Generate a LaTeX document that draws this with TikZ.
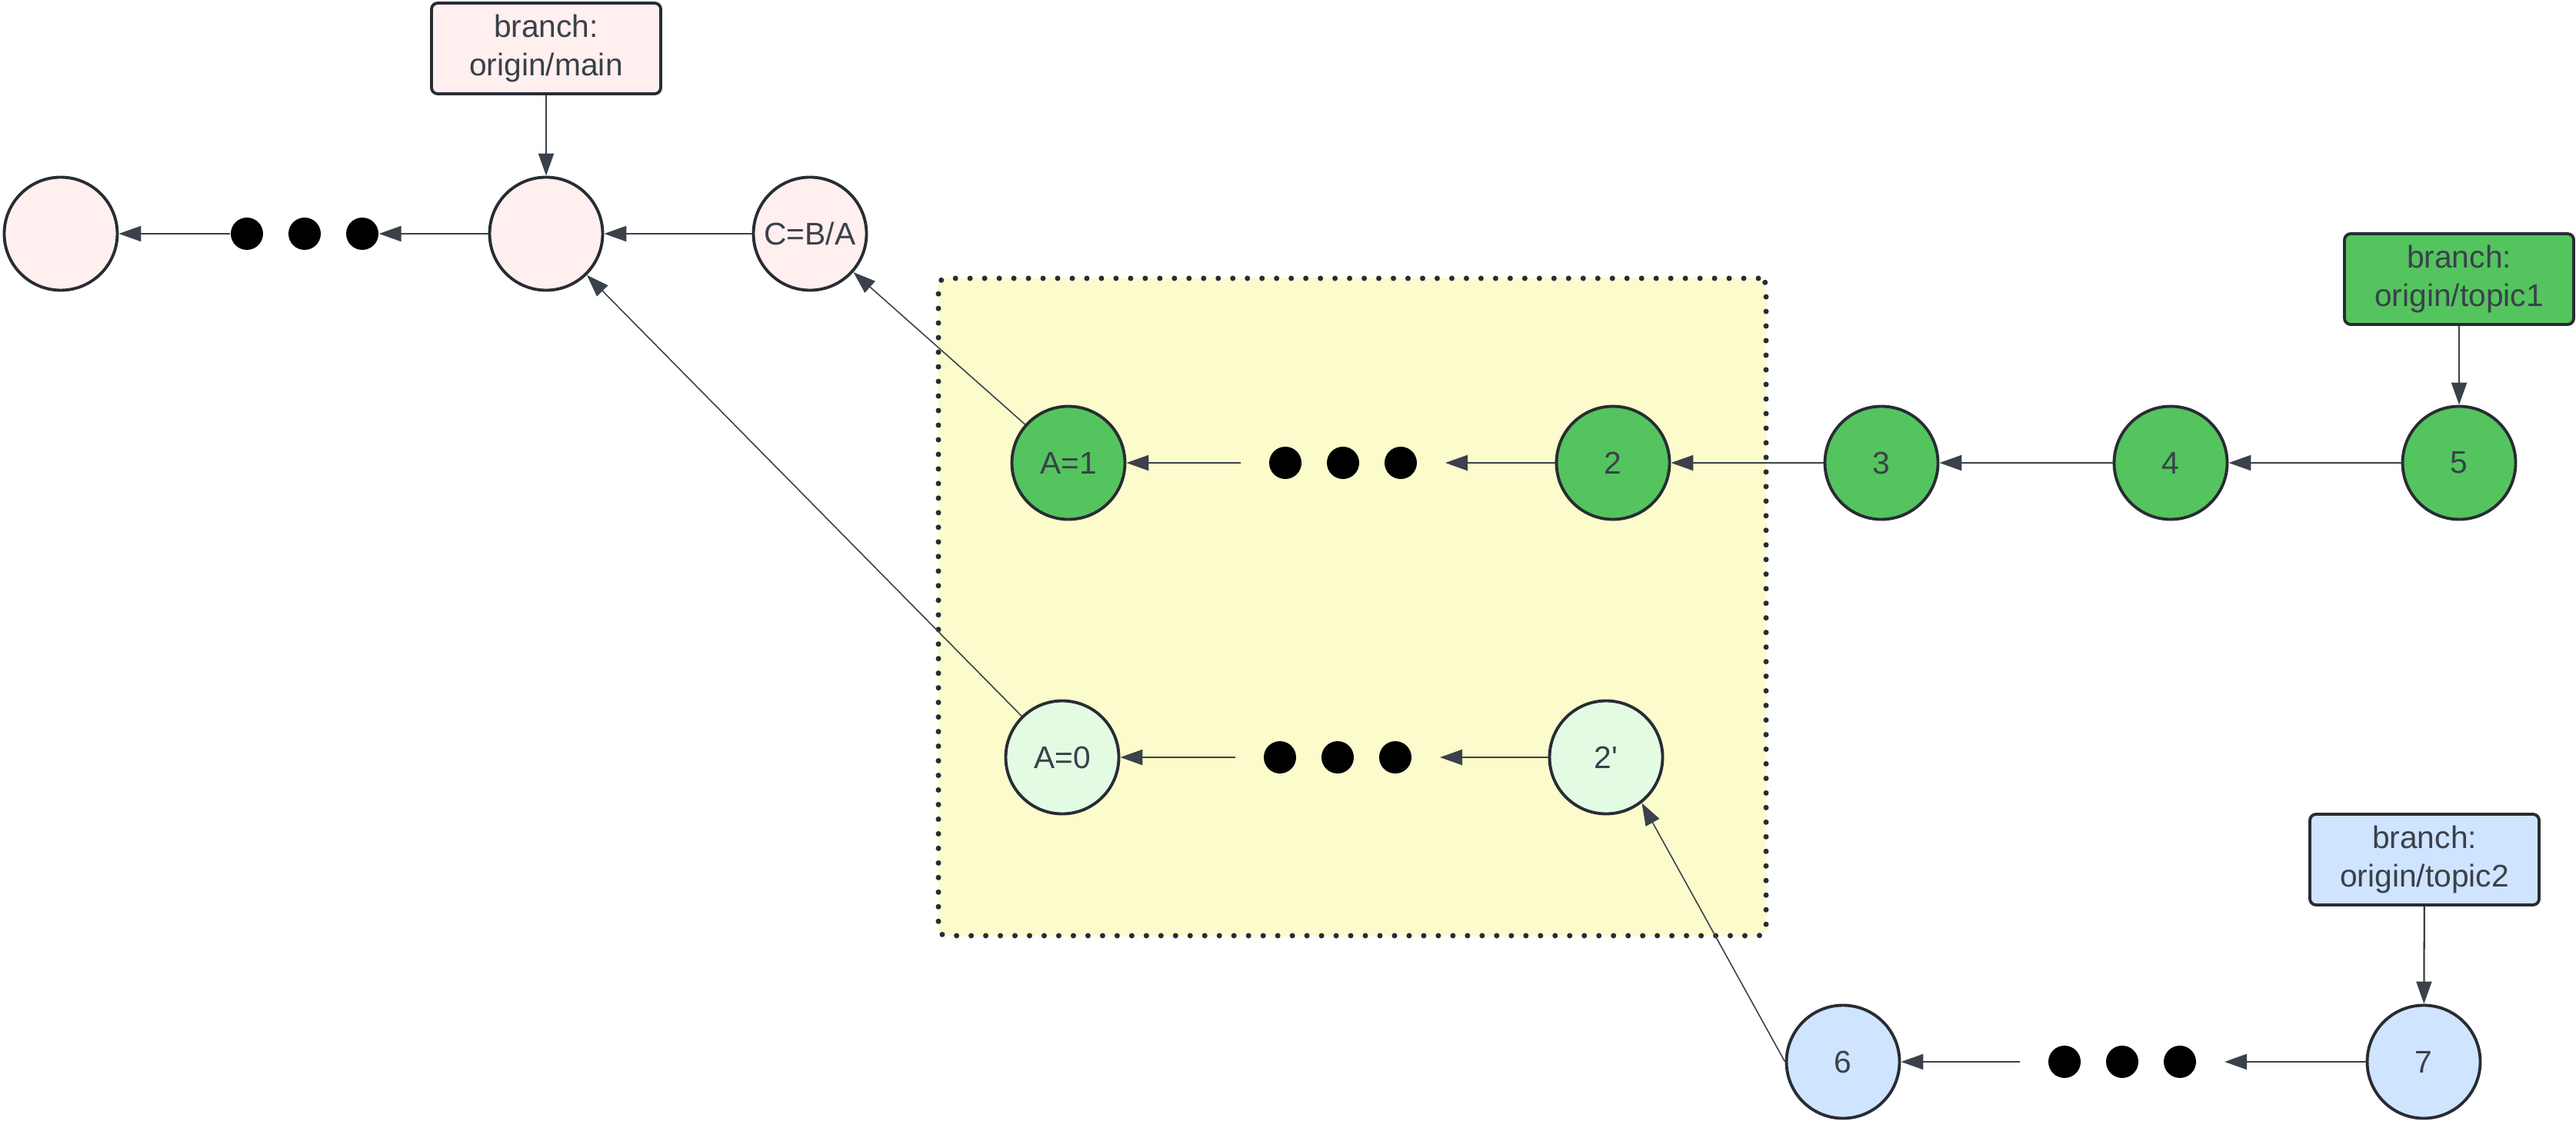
\documentclass[tikz,border=0pt]{standalone}
\usepackage{fontspec}
\setmainfont{Liberation Sans}
\usepackage{tikz}
\usetikzlibrary{arrows.meta}
\definecolor{Pink}{HTML}{FFEFEF}
\definecolor{Green}{HTML}{54C45E}
\definecolor{LightGreen}{HTML}{E3FAE3}
\definecolor{LightBlue}{HTML}{CFE4FF}
\definecolor{Yellow}{HTML}{FBFBCB}
\definecolor{Border}{HTML}{282C33}
\definecolor{Ink}{HTML}{3A414A}

\begin{document}
\begin{tikzpicture}[
  commit/.style={circle,draw=Border,line width=1.1pt,minimum size=1.47cm,inner sep=0pt,text=Ink},
  branch/.style={rectangle,rounded corners=0.08cm,draw=Border,line width=1.1pt,minimum width=2.98cm,minimum height=1.18cm,align=center,text=Ink,inner sep=0pt},
  more/.style={rectangle,minimum width=1.92cm,minimum height=0.42cm,inner sep=0pt},
  gapped/.style={outer xsep=0.37cm},
  region/.style={rectangle,draw=Border,fill=Yellow,line width=2pt,line cap=round,dash pattern=on 0pt off 5.4pt,rounded corners=0.1cm,minimum width=10.76cm,minimum height=8.55cm},
  link/.style={draw=Ink,line width=0.65pt,-{Triangle[length=0.29cm,width=0.2cm]}},
  thinlink/.style={draw=Ink,line width=0.45pt,-{Triangle[length=0.29cm,width=0.2cm]}},
  font=\fontsize{11.6}{14.2}\selectfont]
  \useasboundingbox (0,0) rectangle (33.49,14.57);
  \node[region] (rebased) at (17.58,6.675) {};

  \node[commit,fill=Pink] (root) at (0.79,11.53) {};
  \node[more] (dotsa) at (3.96,11.53) {};
  \node[commit,fill=Pink] (mainc) at (7.10,11.53) {};
  \node[commit,fill=Pink] (cba) at (10.53,11.53) {C=B/A};
  \node[branch,fill=Pink] (mainbr) at (7.10,13.94) {branch:\\origin/main};

  \node[commit,fill=Green] (aone) at (13.89,8.55) {A=1};
  \node[more,gapped] (dotsb) at (17.46,8.55) {};
  \node[commit,fill=Green] (two) at (20.97,8.55) {2};
  \node[commit,fill=Green] (three) at (24.46,8.55) {3};
  \node[commit,fill=Green] (four) at (28.22,8.55) {4};
  \node[commit,fill=Green] (five) at (31.97,8.55) {5};
  \node[branch,fill=Green] (topica) at (31.97,10.94) {branch:\\origin/topic1};

  \node[commit,fill=LightGreen] (azero) at (13.81,4.72) {A=0};
  \node[more,gapped] (dotsc) at (17.39,4.72) {};
  \node[commit,fill=LightGreen] (twop) at (20.88,4.72) {2\textquotesingle};

  \node[commit,fill=LightBlue] (six) at (23.96,0.76) {6};
  \node[more,gapped] (dotsd) at (27.59,0.76) {};
  \node[commit,fill=LightBlue] (seven) at (31.51,0.76) {7};
  \node[branch,fill=LightBlue] (topicb) at (31.52,3.39) {branch:\\origin/topic2};

  \foreach \d in {dotsa,dotsb,dotsc,dotsd}
    \foreach \i in {-0.75,0,0.75}
      \fill[black] ([xshift=\i cm]\d.center) circle (0.21);

  \draw[link] (dotsa) -- (root);
  \draw[link] (mainc) -- (dotsa);
  \draw[link] (cba) -- (mainc);
  \draw[link] (mainbr) -- (mainc);

  \draw[link] (dotsb) -- (aone);
  \draw[link] (two) -- (dotsb);
  \draw[link] (three) -- (two);
  \draw[link] (four) -- (three);
  \draw[link] (five) -- (four);
  \draw[link] (topica) -- (five);

  \draw[link] (dotsc) -- (azero);
  \draw[link] (twop) -- (dotsc);

  \draw[link] (dotsd) -- (six);
  \draw[link] (seven) -- (dotsd);
  \draw[link] (topicb) -- (seven);

  \draw[thinlink] (aone) -- (cba);
  \draw[thinlink] (azero) -- (mainc);
  \draw[thinlink] (six.west) -- (twop.-52);
\end{tikzpicture}
\end{document}
